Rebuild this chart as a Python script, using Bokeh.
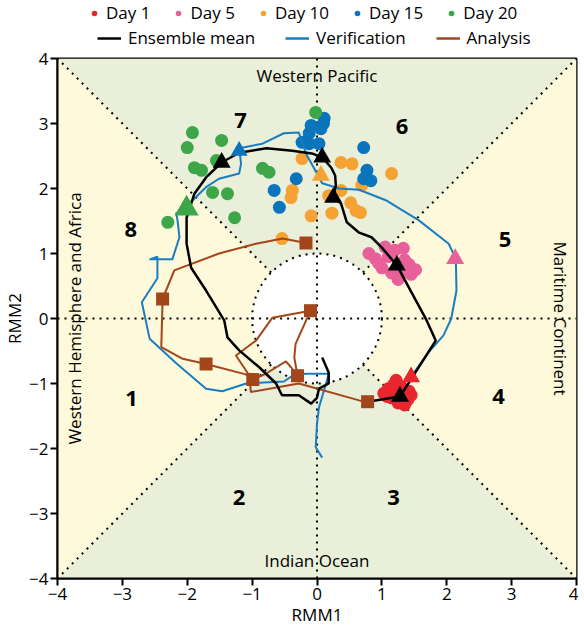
from bokeh.plotting import figure
from bokeh.models import Legend, LegendItem, Label, FixedTicker, Range1d
from bokeh.layouts import column
from bokeh.embed import file_html
from bokeh.resources import INLINE
import numpy as np

LIM = 4
TICKS = [-4, -3, -2, -1, 0, 1, 2, 3, 4]

# ---- Ensemble mean track (black) ----
ens_x = [0.78, 1.28, 1.83, 1.69, 1.23, 1.0, 0.84, 0.65, 0.46, 0.37, 0.25, 0.29, 0.28, 0.22, 0.08,
         -0.08, -0.38, -0.78, -1.2, -1.47, -1.71, -1.89, -2.01, -2.01, -1.94, -1.71, -1.43, -1.38,
         -1.2, -0.89, -0.63, -0.54, -0.28, -0.09, 0.0, 0.03, 0.18, 0.18, 0.08]
ens_y = [-1.28, -1.2, -0.34, -0.03, 0.82, 1.09, 1.25, 1.32, 1.48, 1.77, 1.86, 2.05, 2.2, 2.32, 2.48,
         2.54, 2.58, 2.62, 2.55, 2.4, 2.17, 1.92, 1.55, 1.15, 0.78, 0.43, -0.03, -0.29,
         -0.49, -0.75, -1.0, -1.18, -1.18, -1.31, -1.22, -1.08, -1.0, -0.83, -0.6]

# ---- Verification track (blue) ----
ver_x = [1.44, 1.72, 1.95, 2.07, 2.15, 2.14, 2.03, 1.57, 1.06, 0.65, 0.34, 0.08, -0.17, -0.25, -0.28,
         -0.51, -0.84, -1.2, -1.17, -1.2, -1.51, -1.71, -1.97, -2.01, -2.17, -2.15, -2.12, -2.23,
         -2.58, -2.46, -2.46, -2.7, -2.58, -2.17, -1.71, -1.46, -1.09, -0.51, -0.38, -0.17, 0.18,
         0.14, 0.03, 0.0, -0.02, 0.08]
ver_y = [-0.91, -0.52, -0.26, 0.0, 0.43, 0.92, 1.15, 1.51, 1.82, 1.98, 2.0, 2.08, 2.54, 2.77, 2.86,
         2.85, 2.69, 2.62, 2.38, 2.23, 2.15, 2.02, 1.77, 1.69, 1.62, 1.51, 1.25, 0.91,
         0.91, 0.95, 0.62, 0.25, -0.31, -0.69, -1.08, -1.12, -1.0, -0.97, -0.88, -0.85, -0.85,
         -1.0, -1.37, -1.62, -1.98, -2.14]

# ---- Analysis track (brown) ----
ana_x = [-0.17, -0.53, -0.94, -1.51, -2.2, -2.38, -2.4, -2.07, -1.71, -1.1, -0.99, -0.79, -0.48,
         -0.4, -0.3, -0.35, -0.33, -0.1, -0.69, -0.94, -1.25, -1.04, -1.02, -0.28, 0.65, 0.78]
ana_y = [1.16, 1.23, 1.15, 1.0, 0.74, 0.3, -0.44, -0.62, -0.7, -0.86, -0.94, -0.85, -0.66,
         -0.75, -0.88, -0.6, -0.39, 0.12, 0.01, -0.34, -0.57, -0.88, -1.13, -1.0, -1.26, -1.28]
ana_sq_x = [-0.17, -2.38, -1.71, -0.99, -0.3, -0.1, 0.78]
ana_sq_y = [1.16, 0.3, -0.7, -0.94, -0.88, 0.12, -1.28]

# ---- Ensemble member positions ----
day1_x = [1.22, 1.1, 1.03, 1.3, 1.42, 1.4, 1.35, 1.15, 1.25, 1.2, 1.3, 1.18, 1.45, 1.08]
day1_y = [-0.95, -1.08, -1.15, -1.05, -1.12, -1.25, -1.33, -1.22, -1.3, -1.12, -1.18, -1.02, -1.18, -1.2]
day5_x = [0.8, 0.9, 1.05, 1.0, 1.15, 1.3, 1.35, 1.33, 1.42, 1.52, 1.45, 1.1, 1.2, 0.95, 1.25]
day5_y = [1.0, 0.92, 1.1, 0.78, 0.7, 0.7, 0.9, 1.08, 0.83, 0.75, 0.68, 0.95, 1.05, 0.85, 0.6]
day10_x = [-0.23, 0.37, 0.54, 1.15, -0.38, -0.4, 0.18, 0.37, 0.52, 0.6, 0.67, 0.23, -0.09, 0.69, -0.54]
day10_y = [2.46, 2.4, 2.38, 2.23, 1.97, 1.86, 1.89, 1.97, 1.78, 1.66, 1.63, 1.62, 1.58, 2.05, 1.23]
day15_x = [0.11, -0.09, 0.06, -0.12, -0.23, 0.03, -0.12, 0.72, -0.32, -0.66, -0.58, 0.77, 0.72, 0.83, 0.1]
day15_y = [3.08, 2.97, 2.92, 2.85, 2.71, 2.69, 2.69, 2.63, 2.15, 1.97, 1.71, 2.28, 2.15, 2.12, 3.0]
day20_x = [-1.92, -1.47, -2.0, -1.89, -1.78, -1.55, -1.61, -1.38, -1.27, -2.3, -0.84, -0.74, -0.02]
day20_y = [2.86, 2.74, 2.63, 2.32, 2.28, 2.43, 1.94, 1.92, 1.55, 1.48, 2.31, 2.25, 3.17]

# ---- Triangles at days 1, 5, 10, 15, 20 ----
ens_tri_x = [1.28, 1.23, 0.25, 0.08, -1.47]
ens_tri_y = [-1.2, 0.82, 1.86, 2.48, 2.4]
ver_tri_x = [1.45, 2.13, 0.06, -1.2, -2.01]
ver_tri_y = [-0.9, 0.92, 2.2, 2.58, 1.69]

day_labels = ["Day 1", "Day 5", "Day 10", "Day 15", "Day 20"]
day_colors = ["#e8262e", "#e8609a", "#f4a234", "#0a74bd", "#3ca648"]
line_labels = ["Ensemble mean", "Verification", "Analysis"]
line_colors = ["#000000", "#1b7dc1", "#a3461b"]

region_labels = ["Western Pacific", "Indian Ocean", "Western Hemisphere and Africa", "Maritime Continent"]
region_x = [0.0, 0.0, -3.74, 3.76]
region_y = [3.74, -3.72, 0.0, 0.0]
region_angle = [0.0, 0.0, np.pi / 2, -np.pi / 2]

phase_labels = ["1", "2", "3", "4", "5", "6", "7", "8"]
phase_x = [-2.86, -1.2, 1.18, 2.8, 2.9, 1.31, -1.18, -2.87]
phase_y = [-1.23, -2.75, -2.75, -1.2, 1.22, 2.95, 3.05, 1.37]

GREEN_BG = "#e9efd9"
YELLOW_BG = "#fdf9da"
FONT = "Open Sans"
DOTS = "2 5"

p = figure(frame_width=519, frame_height=520,
           x_range=Range1d(-LIM, LIM), y_range=Range1d(-LIM, LIM),
           output_backend="svg", toolbar_location=None,
           min_border_left=46, min_border_right=2, min_border_top=6, min_border_bottom=40)

p.grid.visible = False
p.outline_line_color = "black"
p.outline_line_width = 2

# background sectors
p.patches(xs=[[0, -LIM, LIM], [0, -LIM, LIM], [0, -LIM, -LIM], [0, LIM, LIM]],
          ys=[[0, LIM, LIM], [0, -LIM, -LIM], [0, LIM, -LIM], [0, LIM, -LIM]],
          fill_color=[GREEN_BG, GREEN_BG, YELLOW_BG, YELLOW_BG], line_color=None)

# dotted reference lines
d = np.sqrt(0.5)
p.segment(x0=[-LIM, 0], y0=[0, -LIM], x1=[LIM, 0], y1=[0, LIM],
          line_color="black", line_width=2, line_dash=DOTS)
p.ellipse(x=[0], y=[0], width=[2], height=[2], fill_color="white", line_color=None)
p.segment(x0=[d, -d, d, -d], y0=[d, d, -d, -d],
          x1=[LIM, -LIM, LIM, -LIM], y1=[LIM, LIM, -LIM, -LIM],
          line_color="black", line_width=2, line_dash=DOTS)
p.segment(x0=[-1, 0], y0=[0, -1], x1=[1, 0], y1=[0, 1],
          line_color="black", line_width=2, line_dash=DOTS)
p.ellipse(x=[0], y=[0], width=[2], height=[2], fill_color=None, line_color="black",
          line_width=2, line_dash=DOTS)

# ensemble member dots
day_x = [day1_x, day5_x, day10_x, day15_x, day20_x]
day_y = [day1_y, day5_y, day10_y, day15_y, day20_y]
for xs, ys, c in zip(day_x, day_y, day_colors):
    p.scatter(xs, ys, marker="circle", size=13, fill_color=c, line_color=None)

# tracks
p.line(ver_x, ver_y, line_color=line_colors[1], line_width=2)
p.line(ana_x, ana_y, line_color=line_colors[2], line_width=2)
p.line(ens_x, ens_y, line_color=line_colors[0], line_width=2.5)
p.scatter(ana_sq_x, ana_sq_y, marker="square", size=13, fill_color=line_colors[2], line_color=None)

# triangles
tri_sizes = [18, 18, 18, 17, 24]
p.scatter(ver_tri_x, ver_tri_y, marker="triangle", size=tri_sizes, fill_color=day_colors, line_color=None)
p.scatter(ens_tri_x, ens_tri_y, marker="triangle", size=18, fill_color="black", line_color=None)

# region labels
for t, x, y, a in zip(region_labels, region_x, region_y, region_angle):
    p.add_layout(Label(x=x, y=y, text=t, angle=a, text_align="center", text_baseline="middle",
                       text_font=FONT, text_font_size="17px", text_color="black"))
for t, x, y in zip(phase_labels, phase_x, phase_y):
    p.add_layout(Label(x=x, y=y, text=t, text_align="center", text_baseline="middle",
                       text_font=FONT, text_font_size="22px", text_font_style="bold", text_color="black"))

# axes
for ax in (p.xaxis[0], p.yaxis[0]):
    ax.ticker = FixedTicker(ticks=TICKS)
    ax.major_tick_out = 7
    ax.major_tick_in = 0
    ax.minor_tick_line_color = None
    ax.axis_line_width = 2
    ax.major_tick_line_width = 2
    ax.major_label_text_font = FONT
    ax.major_label_text_font_size = "17px"
    ax.major_label_text_color = "black"
    ax.axis_label_text_font = FONT
    ax.axis_label_text_font_size = "17px"
    ax.axis_label_text_color = "black"
    ax.axis_label_text_font_style = "normal"
    ax.major_label_standoff = 2
    ax.axis_label_standoff = 0
p.xaxis.axis_label = "RMM1"
p.yaxis.axis_label = "RMM2"

# ---- legend strip above the chart (proxy glyphs sit outside its visible range) ----
lg = figure(width=568, height=52, x_range=Range1d(0, 1), y_range=Range1d(0, 1),
            x_axis_type=None, y_axis_type=None,
            output_backend="svg", toolbar_location=None, min_border=0)
lg.grid.visible = False
lg.outline_line_color = None
dot_r = [lg.scatter([5], [5], marker="circle", size=13, fill_color=c, line_color=None) for c in day_colors]
line_r = [lg.line([5, 6], [5, 6], line_color=c, line_width=2.5) for c in line_colors]

leg_days = Legend(items=[LegendItem(label=l, renderers=[r]) for l, r in zip(day_labels, dot_r)],
                  orientation="horizontal", location=(30, 28), border_line_color=None,
                  background_fill_alpha=0, label_text_font=FONT, label_text_font_size="17px",
                  label_text_color="black", glyph_width=14, glyph_height=14, spacing=21,
                  padding=0, margin=0, label_standoff=5, label_height=18)
leg_lines = Legend(items=[LegendItem(label=l, renderers=[r]) for l, r in zip(line_labels, line_r)],
                   orientation="horizontal", location=(40, 3), border_line_color=None,
                   background_fill_alpha=0, label_text_font=FONT, label_text_font_size="17px",
                   label_text_color="black", glyph_width=24, glyph_height=14, spacing=30,
                   padding=0, margin=0, label_standoff=7, label_height=18)
lg.add_layout(leg_days)
lg.add_layout(leg_lines)

layout = column(lg, p, spacing=0)
open("out.html", "w").write(file_html(layout, INLINE))
